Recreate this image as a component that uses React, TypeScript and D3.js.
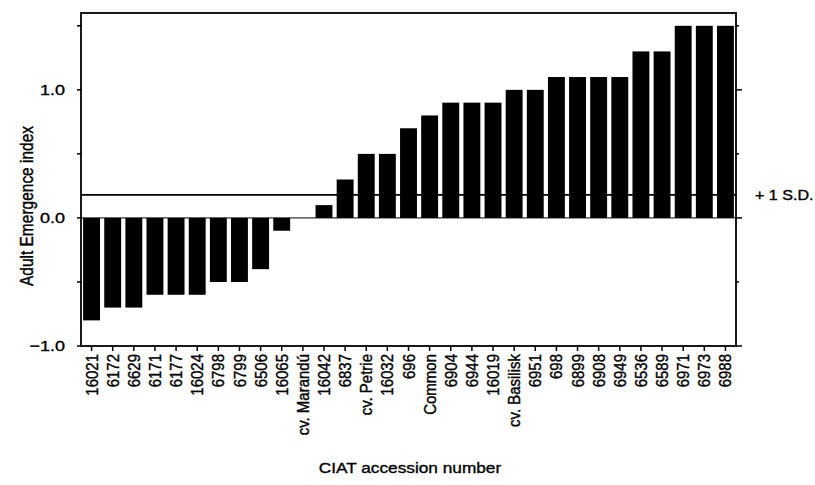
import React from "react";
import * as d3 from "d3";

const accessions = [
  "16021", "6172", "6629", "6171", "6177", "16024", "6798", "6799", "6506", "16065",
  "cv. Marandú", "16042", "6837", "cv. Petrie", "16032", "696", "Common", "6904", "6944", "16019",
  "cv. Basilisk", "6951", "698", "6899", "6908", "6949", "6536", "6589", "6971", "6973", "6988",
];
const emergenceIndex = [
  -0.8, -0.7, -0.7, -0.6, -0.6, -0.6, -0.5, -0.5, -0.4, -0.1,
  0.0, 0.1, 0.3, 0.5, 0.5, 0.7, 0.8, 0.9, 0.9, 0.9,
  1.0, 1.0, 1.1, 1.1, 1.1, 1.1, 1.3, 1.3, 1.5, 1.5, 1.5,
];
const yTicks = [-1.0, -0.5, 0.0, 0.5, 1.0, 1.5];
const yLabelTicks = [-1.0, 0.0, 1.0];
const sdValue = 0.18;

const W = 815;
const H = 485;
const font = "'Liberation Sans', Arial, Helvetica, sans-serif";
// scanned print looks a bit heavier than a plain font
const ink = { fill: "#000", stroke: "#000", strokeWidth: 0.35 };

export default function App() {
  const left = 81, right = 736, top = 13;

  const x = d3.scaleBand<string>()
    .domain(accessions)
    .range([left, right])
    .paddingInner(0.2)
    .paddingOuter(0.1);

  const y = d3.scaleLinear().domain([-1.0, 1.6]).range([346, top]);
  const bottom = y(-1.0);

  return (
    <svg width={W} height={H} style={{ position: "absolute", left: 0, top: 0, background: "#fff" }}>
      {/* reference line, behind the bars */}
      <line x1={left} x2={right} y1={y(sdValue)} y2={y(sdValue)} stroke="#000" strokeWidth={1.6} />
      <line x1={left} x2={right} y1={y(0)} y2={y(0)} stroke="#000" strokeWidth={1} />

      <g fill="#000">
        {accessions.map((a, i) => {
          const v = emergenceIndex[i];
          return (
            <rect key={a} x={x(a)} width={x.bandwidth()}
              y={Math.min(y(v), y(0))} height={Math.abs(y(v) - y(0))} />
          );
        })}
      </g>

      {/* frame */}
      <rect x={left} y={top} width={right - left} height={bottom - top}
        fill="none" stroke="#000" strokeWidth={1.8} />

      {/* left ticks */}
      {yTicks.map(t => (
        <line key={"l" + t} x1={left - 4} x2={left} y1={y(t)} y2={y(t)} stroke="#000" strokeWidth={1.5} />
      ))}
      {/* right ticks */}
      {yTicks.map(t => (
        <line key={"r" + t} x1={right} x2={right + (yLabelTicks.includes(t) ? 6 : 3)}
          y1={y(t)} y2={y(t)} stroke="#000" strokeWidth={1.5} />
      ))}
      {yLabelTicks.map(t => (
        <text key={"t" + t} transform={`translate(65,${y(t)}) scale(1.2,1)`} textAnchor="end" dy="0.36em"
          fontFamily={font} fontSize={15} {...ink}>
          {t.toFixed(1).replace("-", "\u2212")}
        </text>
      ))}

      {/* bottom ticks and labels */}
      {accessions.map(a => {
        const cx = (x(a) as number) + x.bandwidth() / 2;
        return (
          <g key={"x" + a}>
            <line x1={cx} x2={cx} y1={bottom} y2={bottom + 5} stroke="#000" strokeWidth={1.5} />
            <text transform={`translate(${cx},${bottom + 8}) scale(1.12,1) rotate(-90)`} textAnchor="end" dy="0.36em"
              fontFamily={font} fontSize={15} {...ink}>
              {a}
            </text>
          </g>
        );
      })}

      <text transform={`translate(755,${y(sdValue)}) scale(1.15,1)`} dy="0.36em" fontFamily={font} fontSize={14} {...ink}>
        + 1 S.D.
      </text>

      <text transform={`translate(33,206) scale(1.15,1) rotate(-90)`} textAnchor="middle"
        fontFamily={font} fontSize={15.5} {...ink}>
        Adult Emergence index
      </text>

      <text transform={`translate(410,473) scale(1.15,1)`} textAnchor="middle" fontFamily={font} fontSize={15} {...ink}>
        CIAT accession number
      </text>
    </svg>
  );
}
